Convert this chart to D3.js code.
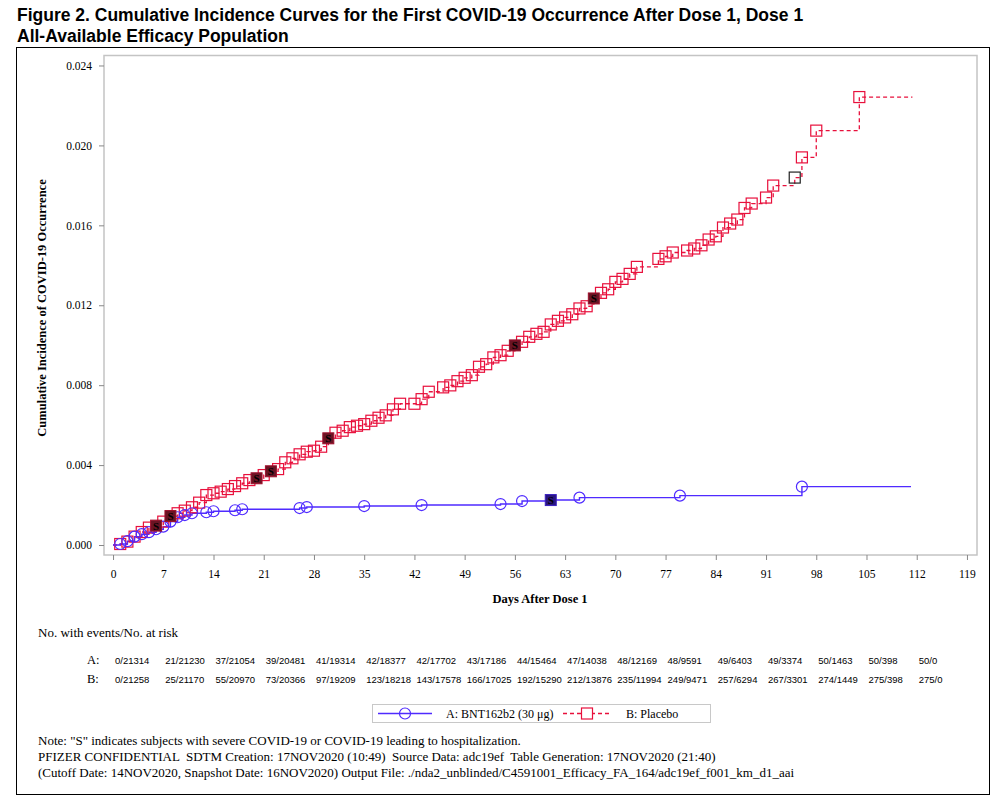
<!DOCTYPE html>
<html>
<head>
<meta charset="utf-8">
<script src="https://cdn.jsdelivr.net/npm/d3@7"></script>
<style>
    body { margin: 0; background: #fff; }
    text { white-space: pre; }
</style>
</head>
<body>
<div class="Canvas"></div>
<script>
// values (day after dose 1, cumulative incidence)
const xTicks = [0, 7, 14, 21, 28, 35, 42, 49, 56, 63, 70, 77, 84, 91, 98, 105, 112, 119];
const yTicks = [0, 0.004, 0.008, 0.012, 0.016, 0.02, 0.024];

const bntDays = [1, 2, 3, 4, 5, 6, 7, 8, 9, 10, 11, 13, 14, 17, 18, 26, 27, 35, 43, 54, 57, 61, 65, 79, 96];
const bntCum = [0.00005, 0.00019, 0.00042, 0.00054, 0.00064, 0.00079, 0.00092, 0.00117, 0.00139, 0.0015, 0.00159,
    0.00164, 0.00169, 0.00174, 0.00179, 0.00185, 0.0019, 0.00195, 0.002, 0.00205, 0.0022, 0.00225, 0.00237, 0.00247, 0.00292];
const bntSevere = [61];
const bntEnd = 111.2;

const placeboDays = [1, 2, 3, 4, 5, 6, 7, 8, 9, 10, 11, 12, 13, 14, 15, 16, 17, 18, 19, 20, 21, 22, 23, 24, 25,
    26, 27, 28, 29, 30, 31, 32, 33, 34, 35, 36, 37, 38, 39, 40, 42, 43, 44, 46, 47, 48, 49, 50,
    51, 52, 53, 54, 55, 56, 57, 58, 59, 60, 61, 62, 63, 64, 65, 66, 67, 68, 69, 70, 71, 72, 73,
    76, 77, 78, 80, 81, 82, 83, 84, 85, 86, 87, 88, 89, 91, 92, 95, 96, 98, 104];
const placeboCum = [0.00005, 0.00017, 0.00042, 0.00065, 0.00087, 0.00097, 0.00117, 0.00145, 0.00159, 0.00172,
    0.00189, 0.00212, 0.0025, 0.00259, 0.00267, 0.0028, 0.00295, 0.00309, 0.00325, 0.00334, 0.0035, 0.00369,
    0.0038, 0.00414, 0.00434, 0.00454, 0.00467, 0.00472, 0.00492, 0.00534, 0.00562, 0.00572, 0.0059, 0.00597,
    0.00605, 0.00622, 0.00637, 0.00649, 0.00679, 0.00707, 0.00707, 0.0073, 0.00767, 0.00789, 0.00799, 0.0082,
    0.00837, 0.0085, 0.00892, 0.00905, 0.00939, 0.0095, 0.00972, 0.00999, 0.01017, 0.01042, 0.01057, 0.01067,
    0.01104, 0.01122, 0.01139, 0.01155, 0.01184, 0.01195, 0.01234, 0.01262, 0.0128, 0.01317, 0.01332, 0.01357,
    0.01392, 0.01432, 0.01445, 0.01464, 0.01474, 0.01484, 0.015, 0.01529, 0.01545, 0.01589, 0.01609, 0.01629,
    0.01687, 0.01709, 0.01739, 0.01799, 0.01839, 0.0194, 0.02074, 0.02242];
const placeboSevere = [6, 8, 20, 22, 30, 56, 67];
const placeboDark = [95];
const placeboEnd = 111.4;

const riskA = ['0/21314', '21/21230', '37/21054', '39/20481', '41/19314', '42/18377', '42/17702', '43/17186', '44/15464',
    '47/14038', '48/12169', '48/9591', '49/6403', '49/3374', '50/1463', '50/398', '50/0'];
const riskB = ['0/21258', '25/21170', '55/20970', '73/20366', '97/19209', '123/18218', '143/17578', '166/17025', '192/15290',
    '212/13876', '235/11994', '249/9471', '257/6294', '267/3301', '274/1449', '275/398', '275/0'];

const titleLines = ['Figure 2. Cumulative Incidence Curves for the First COVID-19 Occurrence After Dose 1, Dose 1',
    'All-Available Efficacy Population'];
const footnotes = ['Note: "S" indicates subjects with severe COVID-19 or COVID-19 leading to hospitalization.',
    'PFIZER CONFIDENTIAL  SDTM Creation: 17NOV2020 (10:49)  Source Data: adc19ef  Table Generation: 17NOV2020 (21:40)',
    '(Cutoff Date: 14NOV2020, Snapshot Date: 16NOV2020) Output File: ./nda2_unblinded/C4591001_Efficacy_FA_164/adc19ef_f001_km_d1_aai'];

const width = 1002;
const height = 796;
const blue = '#4f2bff';
const red = '#e8103c';
const serif = '"Liberation Serif", "Times New Roman", serif';
const sans = '"Liberation Sans", Arial, sans-serif';

const plot = { left: 104, top: 55.5, right: 977, bottom: 555 };

let svg = d3.select('.Canvas').append('svg').attr('width', width).attr('height', height);

// title
svg.selectAll('text.title')
    .data(titleLines)
    .enter()
    .append('text')
    .attr('class', 'title')
    .attr('x', 17)
    .attr('y', (d, i) => 21 + i * 21)
    .attr('font-family', sans)
    .attr('font-weight', 'bold')
    .attr('font-size', '17.5px')
    .text((d) => d);

// outer border
svg.append('rect')
    .attr('x', 16.5).attr('y', 47.5)
    .attr('width', 973).attr('height', 747)
    .attr('fill', 'none').attr('stroke', '#000').attr('stroke-width', 1);

let x = d3.scaleLinear().domain([-1.26, 120.4]).range([plot.left, plot.right]);
let y = d3.scaleLinear().domain([-0.0005, 0.0245]).range([plot.bottom, plot.top]);

// plot frame
svg.append('rect')
    .attr('x', plot.left).attr('y', plot.top)
    .attr('width', plot.right - plot.left).attr('height', plot.bottom - plot.top)
    .attr('fill', 'none').attr('stroke', '#c4c4c4').attr('stroke-width', 1.5);

// axes
let xAxis = svg.append('g')
    .attr('transform', `translate(0,${plot.bottom})`)
    .call(d3.axisBottom(x).tickValues(xTicks).tickSize(5).tickPadding(10).tickFormat(d3.format('d')));
let yAxis = svg.append('g')
    .attr('transform', `translate(${plot.left},0)`)
    .call(d3.axisLeft(y).tickValues(yTicks).tickSize(5).tickPadding(7).tickFormat(d3.format('.3f')));
[xAxis, yAxis].forEach((a) => {
    a.select('.domain').remove();
    a.selectAll('line').attr('stroke', '#888');
    a.selectAll('text').attr('font-family', serif).attr('font-size', '11.5px').attr('fill', '#000');
});

svg.append('text')
    .attr('x', 540).attr('y', 603)
    .attr('text-anchor', 'middle')
    .attr('font-family', serif).attr('font-weight', 'bold').attr('font-size', '12.5px')
    .text('Days After Dose 1');
svg.append('text')
    .attr('transform', 'translate(46,308) rotate(-90)')
    .attr('text-anchor', 'middle')
    .attr('font-family', serif).attr('font-weight', 'bold').attr('font-size', '12.5px')
    .text('Cumulative Incidence of COVID-19 Occurrence');

// step curves
let stepLine = d3.line().x((d) => x(d[0])).y((d) => y(d[1])).curve(d3.curveStepAfter);
function curvePoints(days, cum, end) {
    let pts = [[0, 0]];
    days.forEach((d, i) => pts.push([d, cum[i]]));
    pts.push([end, cum[cum.length - 1]]);
    return pts;
}

svg.append('path')
    .attr('d', stepLine(curvePoints(placeboDays, placeboCum, placeboEnd)))
    .attr('fill', 'none').attr('stroke', red).attr('stroke-width', 1.3)
    .attr('stroke-dasharray', '4,3');
svg.append('path')
    .attr('d', stepLine(curvePoints(bntDays, bntCum, bntEnd)))
    .attr('fill', 'none').attr('stroke', blue).attr('stroke-width', 1.4);

let placeboPts = placeboDays.map((d, i) => ({ day: d, v: placeboCum[i] }));
let bntPts = bntDays.map((d, i) => ({ day: d, v: bntCum[i] }));
const half = 5.5;

// markers
svg.append('g')
    .selectAll('rect')
    .data(placeboPts.filter((p) => !placeboSevere.includes(p.day)))
    .enter()
    .append('rect')
    .attr('x', (d) => x(d.day) - half).attr('y', (d) => y(d.v) - half)
    .attr('width', half * 2).attr('height', half * 2)
    .attr('fill', 'none')
    .attr('stroke', (d) => (placeboDark.includes(d.day) ? '#222' : red))
    .attr('stroke-width', 1.2);

svg.append('g')
    .selectAll('circle')
    .data(bntPts.filter((p) => !bntSevere.includes(p.day)))
    .enter()
    .append('circle')
    .attr('cx', (d) => x(d.day)).attr('cy', (d) => y(d.v))
    .attr('r', half)
    .attr('fill', 'none').attr('stroke', blue).attr('stroke-width', 1.2);

// severe cases: filled marker with "S"
function severe(points, days, fill, edge) {
    let g = svg.append('g')
        .selectAll('g')
        .data(points.filter((p) => days.includes(p.day)))
        .enter()
        .append('g')
        .attr('transform', (d) => `translate(${x(d.day)},${y(d.v)})`);
    g.append('rect')
        .attr('x', -half).attr('y', -half)
        .attr('width', half * 2).attr('height', half * 2)
        .attr('fill', fill).attr('stroke', edge).attr('stroke-width', 1);
    g.append('text')
        .attr('text-anchor', 'middle').attr('y', 4)
        .attr('font-family', serif).attr('font-weight', 'bold').attr('font-size', '11px')
        .attr('fill', '#000')
        .text('S');
}
severe(placeboPts, placeboSevere, '#6a1424', '#a0102c');
severe(bntPts, bntSevere, '#2a1680', '#3a20c0');

// risk table
svg.append('text')
    .attr('x', 38).attr('y', 637)
    .attr('font-family', serif).attr('font-size', '13px')
    .text('No. with events/No. at risk');

[['A:', riskA, 664], ['B:', riskB, 683]].forEach(([label, row, ry]) => {
    svg.append('text')
        .attr('x', 87).attr('y', ry)
        .attr('font-family', serif).attr('font-size', '12.5px')
        .text(label);
    svg.append('g')
        .selectAll('text')
        .data(row)
        .enter()
        .append('text')
        .attr('x', (d, i) => x(xTicks[i]) + 2)
        .attr('y', ry)
        .attr('font-family', sans).attr('font-size', '9.5px')
        .text((d) => d);
});

// legend
let legend = svg.append('g');
legend.append('rect')
    .attr('x', 372.5).attr('y', 704.5).attr('width', 338).attr('height', 18)
    .attr('fill', 'none').attr('stroke', '#c8c8c8');
legend.append('line')
    .attr('x1', 378).attr('x2', 432).attr('y1', 713.5).attr('y2', 713.5)
    .attr('stroke', blue).attr('stroke-width', 1.4);
legend.append('circle')
    .attr('cx', 405).attr('cy', 713.5).attr('r', half)
    .attr('fill', 'none').attr('stroke', blue).attr('stroke-width', 1.2);
legend.append('text')
    .attr('x', 446).attr('y', 718)
    .attr('font-family', serif).attr('font-size', '12px')
    .text('A: BNT162b2 (30 μg)');
legend.append('line')
    .attr('x1', 563).attr('x2', 612).attr('y1', 713.5).attr('y2', 713.5)
    .attr('stroke', red).attr('stroke-width', 1.3).attr('stroke-dasharray', '4,3');
legend.append('rect')
    .attr('x', 587 - half).attr('y', 713.5 - half).attr('width', half * 2).attr('height', half * 2)
    .attr('fill', '#fff').attr('stroke', red).attr('stroke-width', 1.2);
legend.append('text')
    .attr('x', 626).attr('y', 718)
    .attr('font-family', serif).attr('font-size', '12px')
    .text('B: Placebo');

// footnotes
svg.selectAll('text.foot')
    .data(footnotes)
    .enter()
    .append('text')
    .attr('class', 'foot')
    .attr('x', 38)
    .attr('y', (d, i) => 745 + i * 16)
    .attr('font-family', serif)
    .attr('font-size', '13px')
    .text((d) => d);
</script>
</body>
</html>
